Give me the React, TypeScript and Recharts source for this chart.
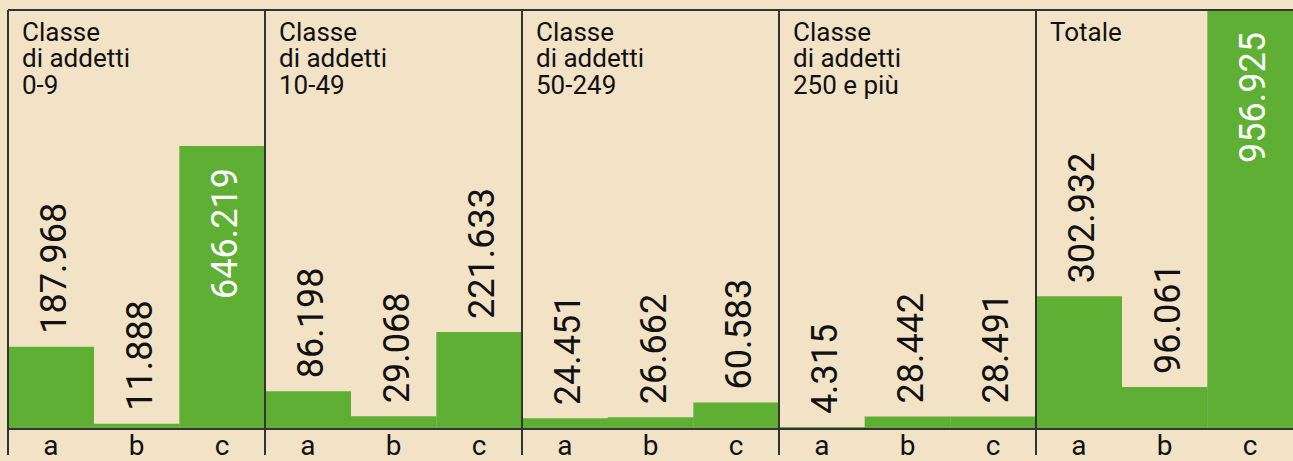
import { BarChart, Bar, XAxis, YAxis, ReferenceLine, LabelList } from "recharts";

const groups = ["0-9", "10-49", "50-249", "250 e più", "Totale"];
const groupTitles = [
  ["Classe", "di addetti", "0-9"],
  ["Classe", "di addetti", "10-49"],
  ["Classe", "di addetti", "50-249"],
  ["Classe", "di addetti", "250 e più"],
  ["Totale"],
];
const letters = ["a", "b", "c"];
const valuesA = [187968, 86198, 24451, 4315, 302932];
const valuesB = [11888, 29068, 26662, 28442, 96061];
const valuesC = [646219, 221633, 60583, 28491, 956925];

const BG = "#f3e3c6";
const GREEN = "#5faf35";
const INK = "#111111";
const RULE = "#333333";
const W = 1293;
const H = 461;
const MARGIN = { top: 10, right: 0, bottom: 0, left: 8 };
const AXIS_H = 32;
const PLOT_H = H - MARGIN.top - AXIS_H;
const Y_MAX = Math.max(...valuesA, ...valuesB, ...valuesC);
// separators run ~26px below the axis line, expressed in value units
const BELOW = (26 / PLOT_H) * Y_MAX;
const VALUE_FONT = 36;

const rows = groups.flatMap((g, gi) =>
  letters.map((l, li) => ({
    key: `${g}|${l}`,
    value: [valuesA, valuesB, valuesC][li][gi],
  }))
);

const fmt = (v: number) => String(v).replace(/\B(?=(\d{3})+(?!\d))/g, ".");

function ValueLabel(props: any) {
  const { x, y, width, value } = props;
  const text = fmt(Number(value));
  const cx = Number(x) + Number(width) / 2 + 15;
  const estLen = VALUE_FONT * (0.5625 * text.replace(".", "").length + 0.27);
  const room = Number(y) - MARGIN.top - 13;
  const inside = estLen > room;
  const ty = inside ? Number(y) + 22 : Number(y) - 13;
  return (
    <text
      x={cx}
      y={ty}
      transform={`rotate(-90 ${cx} ${ty})`}
      textAnchor={inside ? "end" : "start"}
      fill={inside ? "#ffffff" : INK}
      fontSize={VALUE_FONT}
      fontFamily="Roboto"
    >
      {text}
    </text>
  );
}

function titleLabel(lines: string[]) {
  return (p: any) => {
    const vb = p.viewBox || {};
    const tx = Number(vb.x) + 14;
    return (
      <text x={tx} y={Number(vb.y) + 31} fontSize={26} fill={INK} fontFamily="Roboto">
        {lines.map((t, i) => (
          <tspan key={i} x={tx} dy={i === 0 ? 0 : 26.3}>
            {t}
          </tspan>
        ))}
      </text>
    );
  };
}

export default function App() {
  return (
    <div style={{ width: W, height: H }}>
      <style>{`body{margin:0;background:${BG};}`}</style>
      <BarChart
        width={W}
        height={H}
        data={rows}
        margin={MARGIN}
        barCategoryGap={0}
        barGap={0}
        style={{ background: BG }}
      >
        <XAxis
          dataKey="key"
          height={AXIS_H}
          interval={0}
          tickLine={false}
          tickSize={4}
          axisLine={{ stroke: RULE, strokeWidth: 2 }}
          tickFormatter={(k: string) => k.split("|")[1]}
          tick={{ fill: INK, fontSize: 28, fontFamily: "Roboto" }}
        />
        <YAxis hide domain={[0, Y_MAX]} />
        <Bar dataKey="value" fill={GREEN} isAnimationActive={false}>
          <LabelList dataKey="value" content={ValueLabel} />
        </Bar>
        <ReferenceLine y={Y_MAX} stroke={RULE} strokeWidth={2} />
        {groups.map((g, gi) => (
          <ReferenceLine
            key={g}
            segment={[
              { x: `${g}|a`, y: Y_MAX },
              { x: `${g}|a`, y: -BELOW },
            ]}
            position="start"
            ifOverflow="visible"
            stroke={RULE}
            strokeWidth={2}
            label={titleLabel(groupTitles[gi])}
          />
        ))}
      </BarChart>
    </div>
  );
}
